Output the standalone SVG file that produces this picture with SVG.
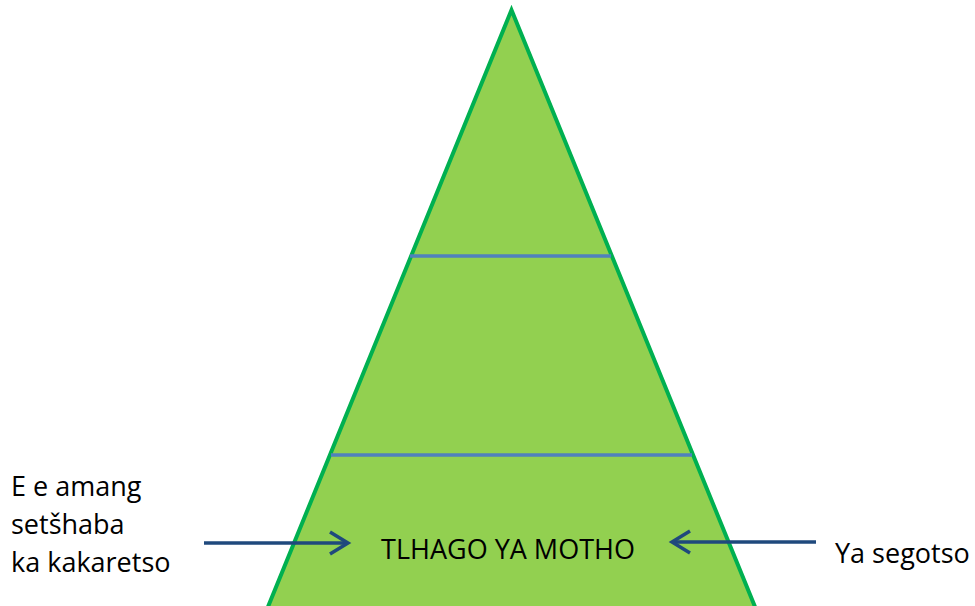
<svg xmlns="http://www.w3.org/2000/svg" width="975" height="606" viewBox="0 0 975 606">
<style>
.lbl{font-family:"Open Sans","Liberation Sans",sans-serif;font-size:27px;fill:#000}
.div{stroke:#4F81BD;stroke-width:3.5}
.conn{stroke:#1F497D;stroke-width:3.5;fill:none}
</style>
<defs>
<marker id="arr" markerWidth="24" markerHeight="26" refX="20" refY="13" orient="auto" markerUnits="userSpaceOnUse">
<path d="M2,2 L20,13 L2,24" fill="none" stroke="#1F497D" stroke-width="3.5" stroke-linejoin="miter"/>
</marker>
</defs>
<rect width="975" height="606" fill="#fff"/>
<g id="pyramid">
<polygon points="511.5,10 252,646 771,646" fill="#92D050" stroke="#00B050" stroke-width="4" stroke-linejoin="miter"/>
<line class="div" x1="410" y1="256" x2="611" y2="256"/>
<line class="div" x1="331" y1="455" x2="692" y2="455"/>
</g>
<g id="base-label">
<text class="lbl" x="508" y="559" text-anchor="middle">TLHAGO YA MOTHO</text>
</g>
<g id="left-label">
<text class="lbl" x="11" y="496">E e amang</text>
<text class="lbl" x="11" y="534">setšhaba</text>
<text class="lbl" x="11" y="572">ka kakaretso</text>
</g>
<g id="right-label">
<text class="lbl" x="835" y="563">Ya segotso</text>
</g>
<g id="connectors">
<line class="conn" x1="204" y1="543" x2="348" y2="543" marker-end="url(#arr)"/>
<line class="conn" x1="816" y1="542" x2="672" y2="542" marker-end="url(#arr)"/>
</g>
</svg>
